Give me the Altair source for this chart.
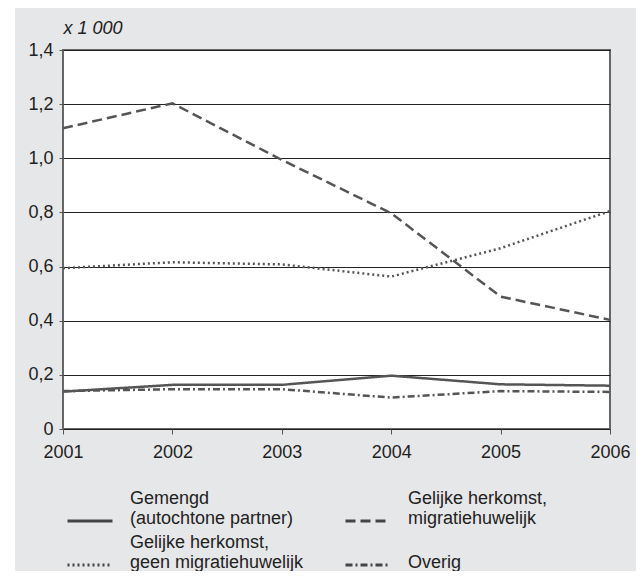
import altair as alt
import pandas as pd

years = [2001, 2002, 2003, 2004, 2005, 2006]
series = [
    "Gemengd|(autochtone partner)",
    "Gelijke herkomst,|migratiehuwelijk",
    "Gelijke herkomst,|geen migratiehuwelijk",
    "|Overig",
]
gemengd = [0.138, 0.163, 0.163, 0.197, 0.165, 0.160]
migratie = [1.111, 1.203, 0.994, 0.797, 0.489, 0.403]
geen_migratie = [0.594, 0.616, 0.608, 0.563, 0.668, 0.805]
overig = [0.140, 0.147, 0.147, 0.116, 0.140, 0.137]
y_ticks = [0, 0.2, 0.4, 0.6, 0.8, 1.0, 1.2, 1.4]

rows = []
for name, vals in zip(series, [gemengd, migratie, geen_migratie, overig]):
    for yr, v in zip(years, vals):
        rows.append({"year": yr, "value": v, "series": name})
df = pd.DataFrame(rows)

W, H = 547, 379
PL, PT, PR, PB = 55, 42, 26, 142

lines = alt.Chart(df).mark_line(strokeWidth=2.5, color="#555555").encode(
    x=alt.X(
        "year:Q",
        scale=alt.Scale(domain=[2001, 2006], nice=False, zero=False),
        axis=alt.Axis(values=years, format="d", title=None, grid=False,
                      tickSize=5, labelPadding=9, domain=False, labelFlush=False,
                      tickColor="#555555"),
    ),
    y=alt.Y(
        "value:Q",
        scale=alt.Scale(domain=[0, 1.4], nice=False),
        axis=alt.Axis(
            values=y_ticks, title="x 1 000", titleAngle=0, titleAlign="left",
            titleX=0, titleY=-17, titleBaseline="alphabetic",
            titleFontStyle="italic", titleFontWeight="normal", titleFontSize=18,
            labelExpr="datum.value == 0 ? '0' : replace(format(datum.value, '.1f'), '.', ',')",
            grid=True, gridColor="#222222", gridWidth=1, labelFlush=False,
            tickSize=4, labelPadding=6, domain=False, tickColor="#555555",
        ),
    ),
    strokeDash=alt.StrokeDash(
        "series:N",
        scale=alt.Scale(domain=series, range=[[1, 0], [10, 5], [2, 3], [7, 3, 2, 3]]),
        legend=alt.Legend(
            title=None, orient="none", legendX=3, legendY=434, columns=2,
            direction="horizontal",
            columnPadding=35, rowPadding=0, symbolType="M-1,0.58L1,0.58",
            symbolSize=2025,
            symbolStrokeWidth=3, symbolStrokeColor="#444444", labelFontSize=18,
            labelLimit=400, labelOffset=16, labelExpr="split(datum.label, '|')",
            labelBaseline="bottom", labelColor="#222222", padding=0,
        ),
    ),
)

strip = alt.Chart(alt.Data(values=[{}])).mark_rect(color="white").encode(
    x=alt.value(-PL), x2=alt.value(-PL + 7), y=alt.value(-PT), y2=alt.value(H + PB)
)

chart = alt.layer(strip, lines).properties(
    width=W, height=H,
    padding={"left": PL, "top": PT, "right": PR, "bottom": PB},
    autosize=alt.AutoSizeParams(type="none"),
    background="#e6e7e8",
).configure(font="Liberation Sans").configure_view(
    fill="white", stroke="#666666", strokeWidth=2
).configure_axis(
    labelFontSize=18, labelColor="#222222", labelFont="Liberation Sans",
    titleColor="#222222", titleFont="Liberation Sans",
).configure_legend(labelFont="Liberation Sans")

chart.save("out.html", embed_options={"renderer": "svg", "actions": False})
